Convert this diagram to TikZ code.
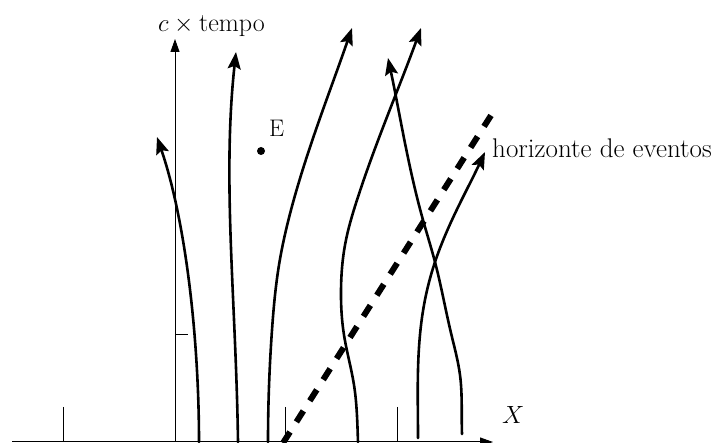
\documentclass[tikz,border=0pt]{standalone}
\usetikzlibrary{arrows.meta,hobby}
\begin{document}
\begin{tikzpicture}[x=1pt,y=-1pt,
  axis/.style={line width=1pt, -{Triangle[length=13pt,width=9pt]}},
  tickline/.style={line width=1pt},
  wl/.style={line width=2.6pt, line cap=round, -{Stealth[length=17pt,width=13pt,inset=3pt]}},
  horiz/.style={line width=6pt, dash pattern=on 13pt off 12pt},
  lbl/.style={inner sep=0pt, font=\fontsize{24}{28}\selectfont}]
\useasboundingbox (0,0) rectangle (721,443);

% axes
\coordinate (xs) at (12,442);
\coordinate (xe) at (493,442);
\coordinate (ys) at (175,442);
\coordinate (ye) at (175,39);
\draw[axis] (xs) -- (xe);
\draw[axis] (ys) -- (ye);

% ticks
\coordinate (t1a) at (63,407);  \coordinate (t1b) at (63,442);
\coordinate (t2a) at (285,407); \coordinate (t2b) at (285,442);
\coordinate (t3a) at (397,407); \coordinate (t3b) at (397,442);
\coordinate (t4a) at (175,335); \coordinate (t4b) at (188,335);
\draw[tickline] (t1a) -- (t1b);
\draw[tickline] (t2a) -- (t2b);
\draw[tickline] (t3a) -- (t3b);
\draw[tickline] (t4a) -- (t4b);

% labels
\node[lbl, font=\fontsize{26}{30}\selectfont, anchor=base west] (ylab) at (158,32) {$c \times {}$tempo};
\node[lbl, anchor=base west] (xlab) at (502,424) {$X$};
\node[lbl, font=\fontsize{27}{31}\selectfont, anchor=base west] (hlab) at (492,158) {horizonte de eventos};
\node[circle, fill, inner sep=0pt, minimum size=8pt] (E) at (261,151) {};
\node[lbl, anchor=base west] (Elab) at (269,137) {E};

% event horizon
\coordinate (h0) at (283,443);
\coordinate (h1) at (497,106);
\draw[horiz] (h0) -- (h1);

% world lines
\draw[wl] (199,442) .. controls (199,340) and (186,222) .. (157,137);
\draw[wl] (238,442) .. controls (236,300) and (222,180) .. (236,52);
\draw[wl, use Hobby shortcut] ([out angle=90]268,442) .. (272,330) .. (279,265) .. (291,210) .. ([in angle=-109]352,28);
\draw[wl, use Hobby shortcut] ([out angle=92]358,442) .. (354,385) .. (344,335) .. (341,290) .. (345,245) .. (357,200) .. ([in angle=-110]421,28);
\draw[wl, use Hobby shortcut] ([out angle=90]418,438) .. (418,370) .. (424,305) .. (435,262) .. ([in angle=-115]485,152);
\draw[wl, use Hobby shortcut] ([out angle=92]462,434) .. (460,375) .. (451,333) .. (435,262) .. (423,220) .. ([in angle=-78]388,58);
\end{tikzpicture}
\end{document}
